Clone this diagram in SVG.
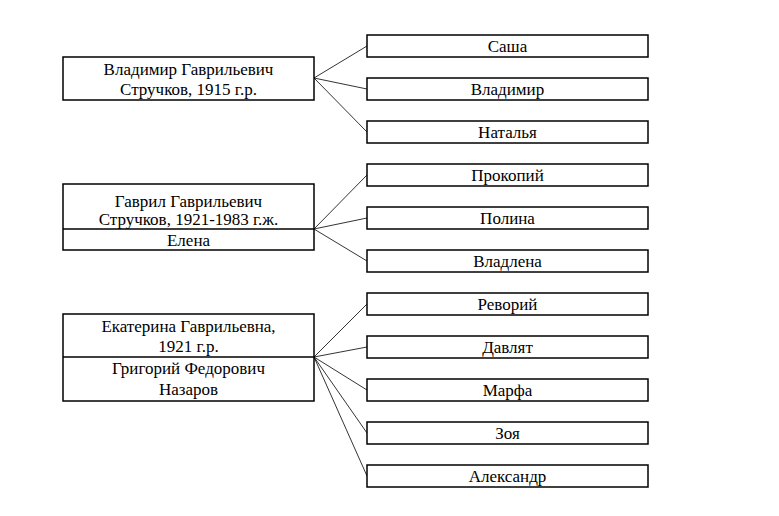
<svg xmlns="http://www.w3.org/2000/svg" width="779" height="516" viewBox="0 0 779 516">
<style>
rect{fill:#fff;stroke:#000;stroke-width:1.5}
.d{stroke:#000;stroke-width:1.5}
text{font-family:"Liberation Serif","Times New Roman",serif;font-size:17px;text-anchor:middle;fill:#000}
.c line{stroke:#000;stroke-width:0.8}
</style>
<rect x="0" y="0" width="779" height="516" style="stroke:none;fill:#fff"/>
<g class="c" id="connectors">
<line x1="314" y1="78" x2="367" y2="46"/>
<line x1="314" y1="78" x2="367" y2="89"/>
<line x1="314" y1="78" x2="367" y2="132"/>
<line x1="314" y1="229" x2="367" y2="175"/>
<line x1="314" y1="229" x2="367" y2="218"/>
<line x1="314" y1="229" x2="367" y2="261"/>
<line x1="314" y1="357" x2="367" y2="304"/>
<line x1="314" y1="357" x2="367" y2="347"/>
<line x1="314" y1="357" x2="367" y2="390"/>
<line x1="314" y1="357" x2="367" y2="433"/>
<line x1="314" y1="357" x2="367" y2="476"/>
</g>
<g id="p1"><rect x="63" y="57" width="251" height="43"/><text x="188.5" y="75">Владимир Гаврильевич</text><text x="188.5" y="94.5">Стручков, 1915 г.р.</text></g>
<g id="p2"><rect x="63" y="184" width="251" height="66"/><line class="d" x1="63" y1="229" x2="314" y2="229"/><text x="188.5" y="206.5">Гаврил Гаврильевич</text><text x="188.5" y="225">Стручков, 1921-1983 г.ж.</text><text x="188.5" y="245.5">Елена</text></g>
<g id="p3"><rect x="63" y="314" width="251" height="87"/><line class="d" x1="63" y1="357" x2="314" y2="357"/><text x="188.5" y="331.5">Екатерина Гаврильевна,</text><text x="188.5" y="351.5">1921 г.р.</text><text x="188.5" y="373.5">Григорий Федорович</text><text x="188.5" y="395">Назаров</text></g>
<g id="c1"><rect x="367" y="35" width="281" height="22"/><text x="507.5" y="51.5">Саша</text></g>
<g id="c2"><rect x="367" y="78" width="281" height="22"/><text x="507.5" y="94.5">Владимир</text></g>
<g id="c3"><rect x="367" y="121" width="281" height="22"/><text x="507.5" y="137.5">Наталья</text></g>
<g id="c4"><rect x="367" y="164" width="281" height="22"/><text x="507.5" y="180.5">Прокопий</text></g>
<g id="c5"><rect x="367" y="207" width="281" height="22"/><text x="507.5" y="223.5">Полина</text></g>
<g id="c6"><rect x="367" y="250" width="281" height="22"/><text x="507.5" y="266.5">Владлена</text></g>
<g id="c7"><rect x="367" y="293" width="281" height="22"/><text x="507.5" y="309.5">Реворий</text></g>
<g id="c8"><rect x="367" y="336" width="281" height="22"/><text x="507.5" y="352.5">Давлят</text></g>
<g id="c9"><rect x="367" y="379" width="281" height="22"/><text x="507.5" y="395.5">Марфа</text></g>
<g id="c10"><rect x="367" y="422" width="281" height="22"/><text x="507.5" y="438.5">Зоя</text></g>
<g id="c11"><rect x="367" y="465" width="281" height="22"/><text x="507.5" y="481.5">Александр</text></g>
</svg>
